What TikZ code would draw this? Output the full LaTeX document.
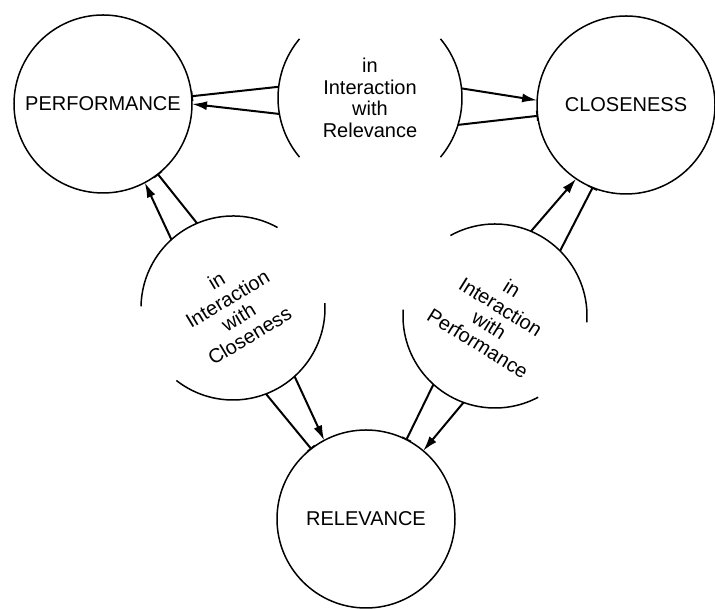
\documentclass[tikz,border=0pt]{standalone}
\usepackage{fontspec}
\setmainfont{Liberation Sans}
\usetikzlibrary{shapes, arrows.meta}

\begin{document}
\begin{tikzpicture}[x=1pt, y=1pt,
    factor/.style={circle, draw, line width=1.5pt, minimum size=178pt, inner sep=0pt, outer sep=0pt},
    ring/.style={circle, minimum size=184pt, inner sep=0pt, outer sep=0pt},
    ringarc/.style={line width=1.5pt},
    ixtext/.style={align=center},
    excite/.style={-{Latex[length=15pt, width=9pt]}, line width=2pt},
    inhibit/.style={-{Bar[width=10pt, line width=1.2pt]}, line width=2pt}]
    \useasboundingbox (0, 0) rectangle (715, 609);
    \fontsize{20}{21.5}\selectfont

    \node[factor] (perf) at (103, 505) {PERFORMANCE};
    \node[factor] (clos) at (626, 504) {CLOSENESS};
    \node[factor] (rel) at (366, 90) {RELEVANCE};
    % Interaction rings (only arcs are drawn)
    \node[ring] (ixR) at (370, 511) {};
    \node[ring] (ixC) at (233, 301) {};
    \node[ring] (ixP) at (495, 293) {};
    \node[ixtext] (ixRtext) at (ixR) {in\\Interaction\\with\\Relevance};
    \node[ixtext, rotate=31] (ixCtext) at (ixC) {in\\Interaction\\with\\Closeness};
    \node[ixtext, rotate=-32] (ixPtext) at (ixP) {in\\Interaction\\with\\Performance};
    \draw[ringarc] (ixR.140) arc[start angle=140, end angle=220, radius=92pt]; % left side of top ring
    \draw[ringarc] (ixR.-40) arc[start angle=-40, end angle=40, radius=92pt]; % right side of top ring
    \draw[ringarc] (ixC.61) arc[start angle=61, end angle=179, radius=92pt]; % upper side of left ring
    \draw[ringarc] (ixC.232) arc[start angle=232, end angle=363, radius=92pt]; % lower side of left ring
    \draw[ringarc] (ixP.-4) arc[start angle=-4, end angle=119, radius=92pt]; % upper side of right ring
    \draw[ringarc] (ixP.176) arc[start angle=176, end angle=298, radius=92pt]; % lower side of right ring
    % Top ring to performance and closeness
    \draw[inhibit] (ixR.173) -- (perf.5);
    \draw[excite] (ixR.190) -- (perf.0);
    \draw[excite] (ixR.6) -- (clos.177);
    \draw[inhibit] (ixR.-17) -- (clos.187);
    % Left ring to performance and relevance
    \draw[excite] (ixC.132) -- (perf.-62);
    \draw[inhibit] (ixC.113) -- (perf.-52);
    \draw[inhibit] (ixC.-69) -- (rel.128);
    \draw[excite] (ixC.-48) -- (rel.118);
    % Right ring to closeness and relevance
    \draw[excite] (ixP.67) -- (clos.236);
    \draw[inhibit] (ixP.45) -- (clos.248);
    \draw[inhibit] (ixP.228) -- (rel.63);
    \draw[excite] (ixP.250) -- (rel.50);
\end{tikzpicture}
\end{document}
